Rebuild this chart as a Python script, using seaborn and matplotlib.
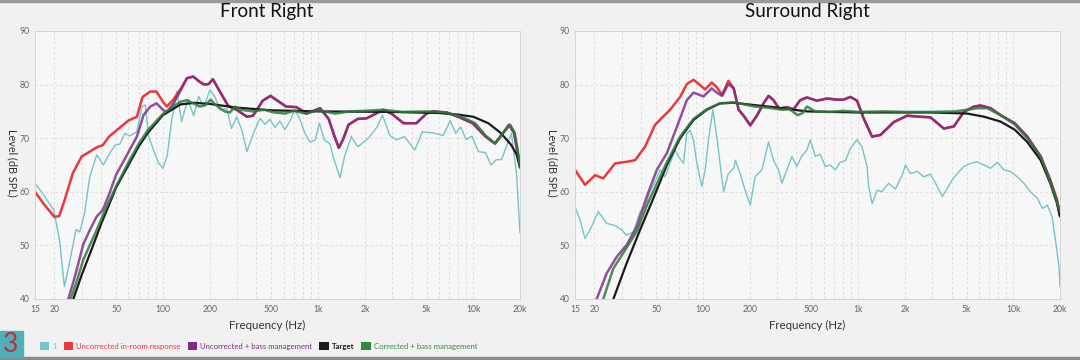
import numpy as np
import pandas as pd
import matplotlib
matplotlib.use("Agg")
import matplotlib.pyplot as plt
import matplotlib.ticker as mticker
from matplotlib.patches import Patch, Rectangle
import seaborn as sns

# --- Style ---
sns.set_style("whitegrid")
plt.rcParams["font.family"] = ["Lato", "DejaVu Sans"]

# --- Colours ---
c_cyan = "#74c4c8"
c_red = "#e63a3c"
c_purple = "#7e2a86"
c_black = "#1b1b1b"
c_green = "#2f7a3c"

# --- Data: (frequency Hz, level dB SPL) ---
# Front Right
fr_cyan = [(15, 61.6), (17, 59.5), (19.8, 56.6), (21.6, 51.0), (23.2, 42.3), (25, 46.7), (27.6, 53.0),
           (29.1, 52.5), (31.3, 56.0), (33.8, 62.8), (37.5, 66.9), (41.3, 65.0), (45.5, 67.2), (49.2, 68.7),
           (52.8, 68.9), (57, 70.9), (61, 70.4), (68, 71.2), (73.3, 75.9), (77, 76.2), (81, 70.3), (87, 67.8),
           (94, 65.3), (100, 64.4), (106.5, 66.6), (114, 73.4), (123, 78.8), (132, 73.1), (145, 77.2),
           (158, 74.2), (170, 77.8), (184, 75.9), (201, 79.0), (217, 77.7), (233, 75.3), (258, 75.5),
           (277, 71.8), (299, 74.0), (323, 71.5), (348, 67.5), (383, 70.9), (423, 73.7), (455, 72.6),
           (489, 73.5), (527, 72.0), (567, 73.2), (611, 71.6), (658, 73.2), (709, 75.3), (764, 73.5),
           (823, 70.9), (886, 69.3), (955, 69.6), (1020, 72.8), (1100, 69.6), (1190, 69.0), (1250, 66.6),
           (1385, 62.6), (1480, 66.6), (1640, 70.3), (1800, 68.4), (2050, 69.7), (2150, 70.3), (2400, 72.1),
           (2600, 74.3), (2900, 70.5), (3200, 69.7), (3600, 70.3), (4200, 67.8), (4700, 71.2), (5500, 71.0),
           (6400, 70.5), (7100, 73.3), (7700, 70.9), (8300, 72.1), (9000, 69.7), (9800, 70.4), (10800, 67.5),
           (12000, 67.3), (13000, 65.0), (14100, 66.0), (15200, 66.0), (16300, 68.4), (17600, 70.9),
           (19000, 63.4), (20000, 52.3)]
fr_red_low = [(15, 60.0), (17, 57.8), (20, 55.3), (21.5, 55.5), (23.3, 58.5), (26.3, 63.5), (30, 66.6),
              (33.8, 67.5), (37.5, 68.3), (41, 68.7), (45, 70.3), (52.5, 71.9), (60, 73.3), (68, 74.0),
              (74, 77.7), (83, 78.7), (91, 78.7), (100, 76.8), (106, 75.9), (116, 77.1), (129, 79.0)]
fr_purple = [(24.6, 40), (27, 44), (30.7, 50.2), (34, 53), (37.5, 55.4), (41, 56.6), (45, 59.5), (50, 63.2),
             (58, 66.6), (68, 70.3), (75, 74.3), (83, 75.9), (91, 76.5), (100, 75.3), (106, 74.8), (117, 76.5),
             (129, 78.7), (143, 81.2), (157, 81.5), (173, 80.5), (185, 80.0), (197, 80.1), (210, 81.0),
             (233, 78.7), (264, 76.0), (299, 75.3), (348, 74.0), (381, 74.2), (440, 77.0), (494, 77.9),
             (541, 77.1), (623, 75.9), (724, 75.8), (845, 74.6), (1030, 75.6), (1170, 73.6), (1270, 70.5),
             (1360, 68.2), (1450, 69.8), (1570, 72.5), (1800, 73.6), (2050, 73.7), (2640, 75.3), (3000, 74.5),
             (3550, 72.8), (4300, 72.8), (5000, 74.6), (5500, 75.0), (6700, 74.8), (8000, 74.0), (9900, 72.8),
             (12000, 70.3), (13800, 69.0), (15500, 70.9), (17000, 72.5), (18300, 71.0), (20000, 64.7)]
fr_target = [(26.5, 40), (30, 44.5), (35, 49.5), (40, 54), (50, 60.8), (60, 65), (70, 68.5), (80, 71),
             (100, 74.3), (130, 76.3), (160, 76.6), (200, 76.4), (300, 75.7), (500, 75.2), (1000, 75.0),
             (3000, 74.9), (6000, 74.7), (8000, 74.4), (10000, 74.0), (12500, 72.8), (15000, 71.0),
             (17500, 68.8), (19000, 67.0), (20000, 64.5)]
fr_green = [(25.5, 40), (28, 43.5), (30.7, 47.3), (34, 50.2), (37.5, 52.9), (43, 57), (50, 61), (60, 65.5),
            (70, 69), (80, 71.5), (100, 74.5), (116, 75.9), (130, 76.8), (143, 77.1), (160, 76.4), (173, 75.9),
            (189, 76.2), (203, 77.2), (217, 76.3), (233, 75.6), (250, 75.0), (270, 74.8), (292, 75.9),
            (320, 75.3), (380, 75.0), (450, 75.3), (520, 74.8), (612, 74.6), (700, 75.1), (827, 74.6),
            (1000, 75.2), (1290, 74.6), (1600, 75.0), (2000, 75.1), (2600, 75.3), (3500, 74.9), (5000, 75.0),
            (6700, 74.8), (8400, 74.0), (10300, 72.8), (12000, 70.5), (13800, 69.0), (15500, 70.9),
            (17300, 72.5), (18500, 71.0), (19300, 68.0), (20000, 64.7)]

# Surround Right
sr_cyan = [(15, 57.2), (16.2, 54.7), (17.4, 51.3), (18.75, 52.9), (21.2, 56.3), (24, 54.1), (27.2, 53.7),
           (30, 52.9), (32.3, 51.9), (35.7, 52.5), (39.4, 56.3), (42.4, 57.2), (45.7, 60.0), (49.2, 61.9),
           (53, 64.1), (57, 62.8), (61.5, 65.3), (66.3, 67.8), (69.6, 66.6), (75, 65.3), (78.8, 70.9),
           (82.8, 71.5), (87, 69.6), (91.5, 65.3), (98.5, 61.0), (103.5, 64.1), (108.6, 69.6), (116, 75.3),
           (123, 70.2), (133, 62.2), (136, 60.0), (146, 63.4), (158, 64.4), (162, 65.9), (174, 63.4),
           (187, 60.3), (202, 57.5), (217, 62.8), (240, 64.1), (265, 69.3), (285, 65.9), (307, 64.1),
           (323, 61.6), (348, 64.1), (375, 66.6), (403, 64.7), (432, 66.6), (468, 67.8), (492, 69.7),
           (530, 66.6), (571, 67.0), (615, 64.7), (660, 65.0), (714, 64.1), (765, 65.5), (828, 65.8),
           (892, 68.1), (985, 69.7), (1060, 68.4), (1143, 64.7), (1170, 61.0), (1231, 57.8), (1326, 60.3),
           (1420, 60.0), (1575, 61.6), (1740, 60.5), (1922, 63.1), (2020, 65.0), (2175, 63.4), (2405, 63.8),
           (2650, 62.8), (2925, 63.3), (3240, 61.0), (3485, 59.1), (3750, 60.6), (4040, 62.2), (4355, 63.4),
           (4800, 64.7), (5300, 65.3), (5860, 65.6), (6460, 65.0), (7140, 64.4), (7890, 65.5), (8700, 64.1),
           (9600, 63.8), (10600, 62.8), (11700, 61.6), (12900, 60.0), (14300, 58.8), (15400, 56.9),
           (16600, 57.5), (17800, 55.3), (18700, 51.0), (19700, 46.0), (20000, 42.3)]
sr_red_low = [(15, 64.1), (17.4, 61.3), (20.2, 63.1), (22.8, 62.5), (27.2, 65.3), (32.3, 65.6), (36.6, 65.9),
              (42.4, 68.4), (49.2, 72.5), (55.7, 74.1), (61.5, 75.3), (71.4, 77.7), (78.8, 80.1), (87, 80.9),
              (96, 79.9), (103.5, 79.1), (114, 80.4), (123, 79.5), (133, 78.1), (146, 80.7)]
sr_purple = [(20.7, 40), (24, 44.8), (27.9, 47.9), (32.3, 50.1), (37.5, 53.5), (43.5, 59.1), (50.5, 64.1),
             (58.6, 67.2), (68, 72.1), (78.8, 77.1), (87, 78.5), (101, 77.8), (114, 79.3), (123, 78.5),
             (133, 77.9), (146, 80.1), (158, 79.3), (170, 75.3), (183, 74.2), (202, 72.4), (225, 74.4),
             (246, 76.5), (265, 77.9), (285, 77.1), (310, 75.5), (348, 75.8), (384, 75.4), (424, 77.1),
             (468, 77.6), (543, 77.0), (631, 77.4), (732, 77.2), (807, 77.2), (892, 77.7), (985, 77.0),
             (1086, 73.7), (1231, 70.3), (1393, 70.6), (1698, 73.0), (2070, 74.2), (2520, 74.0), (2925, 73.9),
             (3570, 71.8), (4140, 72.2), (4800, 74.9), (5570, 75.9), (6150, 76.1), (7140, 75.6), (8280, 74.3),
             (10200, 72.8), (12300, 70.3), (15000, 66.6), (17300, 62.2), (19100, 58.5), (20000, 55.5)]
sr_target = [(26.5, 40), (32.3, 46.7), (39.4, 52.9), (48, 58.8), (58.6, 65), (71.4, 70), (87, 73.4),
             (106, 75.3), (129, 76.5), (158, 76.6), (212, 76.2), (285, 75.8), (468, 75.0), (1000, 74.8),
             (3000, 74.8), (5050, 74.6), (6500, 74.0), (8280, 73.1), (10200, 71.6), (12300, 69.3),
             (15000, 65.9), (17300, 61.6), (19100, 57.9), (20000, 55.4)]
sr_green = [(22.8, 40), (26.5, 45.7), (32.3, 49.6), (37.5, 52.6), (43.5, 57.4), (50.5, 61.5), (58.6, 65.5),
            (71.4, 70.3), (87, 73.6), (106, 75.4), (129, 76.5), (158, 76.7), (217, 75.9), (260, 75.7),
            (325, 75.3), (362, 75.4), (408, 74.3), (440, 74.7), (468, 75.9), (530, 75.0), (650, 74.9),
            (800, 75.1), (1000, 74.9), (1500, 75.0), (2000, 74.9), (3000, 74.9), (4200, 75.0), (5050, 75.3),
            (5860, 75.6), (6800, 75.6), (8280, 74.3), (10200, 72.6), (12300, 70.0), (15000, 66.6),
            (17300, 61.9), (19100, 58.2), (20000, 56.3)]

panels = ["Front Right", "Surround Right"]
legend_labels = ["1", "Uncorrected in-room response", "Uncorrected + bass management", "Target",
                 "Corrected + bass management"]
xtick_vals = [15, 20, 50, 100, 200, 500, 1000, 2000, 5000, 10000, 20000]
xtick_labels = ["15", "20", "50", "100", "200", "500", "1k", "2k", "5k", "10k", "20k"]
ytick_vals = [40, 50, 60, 70, 80, 90]


def to_df(points):
    return pd.DataFrame(points, columns=["hz", "db"])


def panel_series(cyan, red_low, purple, target, green):
    red = red_low + [p for p in purple if p[0] > red_low[-1][0] + 10]
    return [(cyan, c_cyan, 1.0, 1.0), (red, c_red, 1.8, 1.0), (purple, c_purple, 1.8, 0.82),
            (target, c_black, 1.6, 1.0), (green, c_green, 1.8, 0.85)]


series = [panel_series(fr_cyan, fr_red_low, fr_purple, fr_target, fr_green),
          panel_series(sr_cyan, sr_red_low, sr_purple, sr_target, sr_green)]

W, H = 1080, 360
fig = plt.figure(figsize=(W / 100, H / 100), dpi=100, facecolor="#f1f1f1")

ax_lefts = [35, 575]
for i, left in enumerate(ax_lefts):
    ax = fig.add_axes([left / W, 1 - 299 / H, 485 / W, 268 / H])
    ax.set_facecolor("#f7f7f7")
    for pts, col, lw, a in series[i]:
        d = to_df(pts)
        sns.lineplot(data=d, x="hz", y="db", ax=ax, color=col, linewidth=lw, alpha=a,
                     estimator=None, sort=False, legend=False)
    ax.set_xscale("log")
    ax.set_xlim(15, 20000)
    ax.set_ylim(40, 90)
    ax.xaxis.set_major_locator(mticker.FixedLocator(xtick_vals))
    ax.xaxis.set_major_formatter(mticker.FixedFormatter(xtick_labels))
    ax.xaxis.set_minor_locator(mticker.LogLocator(base=10, subs=np.arange(2, 10)))
    ax.xaxis.set_minor_formatter(mticker.NullFormatter())
    ax.set_yticks(ytick_vals)
    ax.grid(True, which="both", axis="x", color="#d9d9d9", linestyle=(0, (3, 3)), linewidth=0.6)
    ax.grid(True, which="major", axis="y", color="#d9d9d9", linestyle=(0, (3, 3)), linewidth=0.6)
    ax.set_axisbelow(True)
    ax.tick_params(axis="both", which="both", length=0, labelsize=6.2, labelcolor="#666666", pad=4)
    for s in ax.spines.values():
        s.set_color("#d4d4d4")
        s.set_linewidth(0.7)
    ax.set_xlabel("")
    ax.set_ylabel("")
    cx = (left + 232) / W
    fig.text(cx, 1 - 12 / H, panels[i], ha="center", va="center", fontsize=13.5, color="#111111")
    fig.text(cx, 1 - 325 / H, "Frequency (Hz)", ha="center", va="center", fontsize=8.3, color="#333333")
    fig.text((left - 23) / W, 1 - 163 / H, "Level (dB SPL)", ha="center", va="center",
             rotation=270, fontsize=7.8, color="#333333")

# --- Bottom strip: badge and legend ---
fig.patches.append(Rectangle((0, 0), 1, 3 / H, transform=fig.transFigure, color="#8a8a8a", zorder=0))
fig.patches.append(Rectangle((0, 1 - 2 / H), 1, 2 / H, transform=fig.transFigure, color="#9a9a9a", zorder=0))
fig.patches.append(Rectangle((0, 3 / H), 23 / W, 26 / H, transform=fig.transFigure, color="#4fb0ba", zorder=1))
fig.text(11 / W, 1 - 344 / H, "3", ha="center", va="center", fontsize=19, color="#b8323a")

leg_colors = [c_cyan, c_red, c_purple, c_black, "#2e8b3e"]
handles = [Patch(facecolor=c, edgecolor="none") for c in leg_colors]
leg = fig.legend(handles, legend_labels, loc="center left", bbox_to_anchor=(33 / W, 1 - 346 / H),
                 ncol=5, frameon=False, fontsize=5.6, handlelength=1.2, handleheight=1.2,
                 handletextpad=0.4, columnspacing=0.9, labelcolor=leg_colors)
leg.get_texts()[3].set_fontweight("bold")

fig.savefig("out.png", dpi=100, facecolor=fig.get_facecolor())
